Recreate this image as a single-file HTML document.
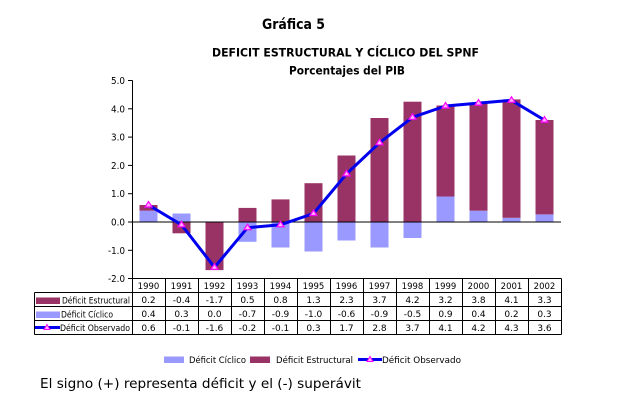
<!DOCTYPE html>
<html><head><meta charset="utf-8"><style>
html,body{margin:0;padding:0;background:#fff;}
svg{display:block;}
text{font-family:"DejaVu Sans","Liberation Sans",sans-serif;fill:#000;}
</style></head><body>
<svg width="617" height="405" viewBox="0 0 617 405" xmlns="http://www.w3.org/2000/svg">
<rect width="617" height="405" fill="#fff"/>
<!-- titles -->
<text x="293.5" y="29" font-size="14" font-weight="bold" text-anchor="middle" textLength="63" lengthAdjust="spacingAndGlyphs">Gráfica 5</text>
<text x="345.5" y="56.5" font-size="11.5" font-weight="bold" text-anchor="middle" textLength="267" lengthAdjust="spacingAndGlyphs">DEFICIT ESTRUCTURAL Y CÍCLICO DEL SPNF</text>
<text x="347" y="74.5" font-size="11.5" font-weight="bold" text-anchor="middle" textLength="116" lengthAdjust="spacingAndGlyphs">Porcentajes del PIB</text>

<!-- y axis -->
<g font-size="9.5" text-anchor="end">
<text x="125" y="84" textLength="14" lengthAdjust="spacingAndGlyphs">5.0</text>
<text x="125" y="112.3" textLength="14" lengthAdjust="spacingAndGlyphs">4.0</text>
<text x="125" y="140.6" textLength="14" lengthAdjust="spacingAndGlyphs">3.0</text>
<text x="125" y="168.9" textLength="14" lengthAdjust="spacingAndGlyphs">2.0</text>
<text x="125" y="197.2" textLength="14" lengthAdjust="spacingAndGlyphs">1.0</text>
<text x="125" y="225.5" textLength="14" lengthAdjust="spacingAndGlyphs">0.0</text>
<text x="125" y="253.8" textLength="17" lengthAdjust="spacingAndGlyphs">-1.0</text>
<text x="125" y="282.1" textLength="17" lengthAdjust="spacingAndGlyphs">-2.0</text>
</g>
<g stroke="#000" stroke-width="1">
<line x1="132.5" y1="80.5" x2="132.5" y2="278.5"/>
<line x1="128" y1="80.5" x2="132.5" y2="80.5"/>
<line x1="128" y1="108.8" x2="132.5" y2="108.8"/>
<line x1="128" y1="137.1" x2="132.5" y2="137.1"/>
<line x1="128" y1="165.4" x2="132.5" y2="165.4"/>
<line x1="128" y1="193.7" x2="132.5" y2="193.7"/>
<line x1="128" y1="222" x2="132.5" y2="222"/>
<line x1="128" y1="250.3" x2="132.5" y2="250.3"/>
<line x1="128" y1="278.5" x2="132.5" y2="278.5"/>
</g>

<!-- bars: y(v)=222-28.3v ; cx=148.5+33i -->
<g>
<!-- 1990 cic 0.4 estr 0.2 -->
<rect x="139.5" y="210.7" width="18" height="11.3" fill="#9999FF"/>
<rect x="139.5" y="205" width="18" height="5.7" fill="#993366"/>
<!-- 1991 cic 0.3, estr -0.4 -->
<rect x="172.5" y="213.5" width="18" height="8.5" fill="#9999FF"/>
<rect x="172.5" y="222" width="18" height="11.3" fill="#993366"/>
<!-- 1992 estr -1.7 -->
<rect x="205.5" y="222" width="18" height="48.1" fill="#993366"/>
<!-- 1993 cic -0.7 estr 0.5 -->
<rect x="238.5" y="222" width="18" height="19.8" fill="#9999FF"/>
<rect x="238.5" y="207.9" width="18" height="14.1" fill="#993366"/>
<!-- 1994 cic -0.9 estr 0.8 -->
<rect x="271.5" y="222" width="18" height="25.5" fill="#9999FF"/>
<rect x="271.5" y="199.4" width="18" height="22.6" fill="#993366"/>
<!-- 1995 cic -1.0 estr 1.3 -->
<rect x="304.5" y="222" width="18" height="29.5" fill="#9999FF"/>
<rect x="304.5" y="183.2" width="18" height="38.8" fill="#993366"/>
<!-- 1996 cic -0.6 estr 2.3 -->
<rect x="337.5" y="222" width="18" height="18.5" fill="#9999FF"/>
<rect x="337.5" y="155.5" width="18" height="66.5" fill="#993366"/>
<!-- 1997 cic -0.9 estr 3.7 -->
<rect x="370.5" y="222" width="18" height="25.5" fill="#9999FF"/>
<rect x="370.5" y="118" width="18" height="104" fill="#993366"/>
<!-- 1998 cic -0.55 estr 4.25 -->
<rect x="403.5" y="222" width="18" height="16" fill="#9999FF"/>
<rect x="403.5" y="101.7" width="18" height="120.3" fill="#993366"/>
<!-- 1999 cic 0.9 estr 3.2 -->
<rect x="436.5" y="196.5" width="18" height="25.5" fill="#9999FF"/>
<rect x="436.5" y="105.5" width="18" height="91" fill="#993366"/>
<!-- 2000 cic 0.4 estr 3.8 -->
<rect x="469.5" y="210.7" width="18" height="11.3" fill="#9999FF"/>
<rect x="469.5" y="102.5" width="18" height="108.2" fill="#993366"/>
<!-- 2001 cic 0.15 estr 4.18 -->
<rect x="502.5" y="217.8" width="18" height="4.2" fill="#9999FF"/>
<rect x="502.5" y="99.4" width="18" height="118.4" fill="#993366"/>
<!-- 2002 cic 0.27 estr 3.3 -->
<rect x="535.5" y="214.4" width="18" height="7.6" fill="#9999FF"/>
<rect x="535.5" y="120" width="18" height="94.4" fill="#993366"/>
</g>
<line x1="132.5" y1="222" x2="561" y2="222" stroke="#000" stroke-width="1"/>

<!-- observed line -->
<polyline fill="none" stroke="#0000EE" stroke-width="3" stroke-linejoin="round"
 points="148.5,205 181.5,224.8 214.5,267.3 247.5,227.7 280.5,224.8 313.5,213.5 346.5,173.9 379.5,142.8 412.5,117.3 445.5,106 478.5,103.1 511.5,100.3 544.5,120.1"/>
<g fill="#FFB3FF" stroke="#FF00FF" stroke-width="1.2">
<path d="M148.5,201.5 L152,207 L145,207 Z"/>
<path d="M181.5,221.3 L185,226.8 L178,226.8 Z"/>
<path d="M214.5,263.8 L218,269.3 L211,269.3 Z"/>
<path d="M247.5,224.2 L251,229.7 L244,229.7 Z"/>
<path d="M280.5,221.3 L284,226.8 L277,226.8 Z"/>
<path d="M313.5,210 L317,215.5 L310,215.5 Z"/>
<path d="M346.5,170.4 L350,175.9 L343,175.9 Z"/>
<path d="M379.5,139.3 L383,144.8 L376,144.8 Z"/>
<path d="M412.5,113.8 L416,119.3 L409,119.3 Z"/>
<path d="M445.5,102.5 L449,108 L442,108 Z"/>
<path d="M478.5,99.6 L482,105.1 L475,105.1 Z"/>
<path d="M511.5,96.8 L515,102.3 L508,102.3 Z"/>
<path d="M544.5,116.6 L548,122.1 L541,122.1 Z"/>
</g>

<!-- data table -->
<g stroke="#000" stroke-width="1" fill="none">
<line x1="132.5" y1="278.5" x2="561.5" y2="278.5"/>
<line x1="34.5" y1="292.5" x2="561.5" y2="292.5"/>
<line x1="34.5" y1="306.5" x2="561.5" y2="306.5"/>
<line x1="34.5" y1="320.5" x2="561.5" y2="320.5"/>
<line x1="34.5" y1="334.5" x2="561.5" y2="334.5"/>
<line x1="34.5" y1="292.5" x2="34.5" y2="334.5"/>
<line x1="132.5" y1="278.5" x2="132.5" y2="334.5"/>
<line x1="165.5" y1="278.5" x2="165.5" y2="334.5"/>
<line x1="198.5" y1="278.5" x2="198.5" y2="334.5"/>
<line x1="231.5" y1="278.5" x2="231.5" y2="334.5"/>
<line x1="264.5" y1="278.5" x2="264.5" y2="334.5"/>
<line x1="297.5" y1="278.5" x2="297.5" y2="334.5"/>
<line x1="330.5" y1="278.5" x2="330.5" y2="334.5"/>
<line x1="363.5" y1="278.5" x2="363.5" y2="334.5"/>
<line x1="396.5" y1="278.5" x2="396.5" y2="334.5"/>
<line x1="429.5" y1="278.5" x2="429.5" y2="334.5"/>
<line x1="462.5" y1="278.5" x2="462.5" y2="334.5"/>
<line x1="495.5" y1="278.5" x2="495.5" y2="334.5"/>
<line x1="528.5" y1="278.5" x2="528.5" y2="334.5"/>
<line x1="561.5" y1="278.5" x2="561.5" y2="334.5"/>
</g>
<g font-size="8.5" text-anchor="middle">
<text x="148.5" y="289">1990</text><text x="181.5" y="289">1991</text><text x="214.5" y="289">1992</text><text x="247.5" y="289">1993</text><text x="280.5" y="289">1994</text><text x="313.5" y="289">1995</text><text x="346.5" y="289">1996</text><text x="379.5" y="289">1997</text><text x="412.5" y="289">1998</text><text x="445.5" y="289">1999</text><text x="478.5" y="289">2000</text><text x="511.5" y="289">2001</text><text x="544.5" y="289">2002</text>
</g>
<g font-size="9" text-anchor="middle">
<text x="148.5" y="303">0.2</text><text x="181.5" y="303">-0.4</text><text x="214.5" y="303">-1.7</text><text x="247.5" y="303">0.5</text><text x="280.5" y="303">0.8</text><text x="313.5" y="303">1.3</text><text x="346.5" y="303">2.3</text><text x="379.5" y="303">3.7</text><text x="412.5" y="303">4.2</text><text x="445.5" y="303">3.2</text><text x="478.5" y="303">3.8</text><text x="511.5" y="303">4.1</text><text x="544.5" y="303">3.3</text>
<text x="148.5" y="317">0.4</text><text x="181.5" y="317">0.3</text><text x="214.5" y="317">0.0</text><text x="247.5" y="317">-0.7</text><text x="280.5" y="317">-0.9</text><text x="313.5" y="317">-1.0</text><text x="346.5" y="317">-0.6</text><text x="379.5" y="317">-0.9</text><text x="412.5" y="317">-0.5</text><text x="445.5" y="317">0.9</text><text x="478.5" y="317">0.4</text><text x="511.5" y="317">0.2</text><text x="544.5" y="317">0.3</text>
<text x="148.5" y="331">0.6</text><text x="181.5" y="331">-0.1</text><text x="214.5" y="331">-1.6</text><text x="247.5" y="331">-0.2</text><text x="280.5" y="331">-0.1</text><text x="313.5" y="331">0.3</text><text x="346.5" y="331">1.7</text><text x="379.5" y="331">2.8</text><text x="412.5" y="331">3.7</text><text x="445.5" y="331">4.1</text><text x="478.5" y="331">4.2</text><text x="511.5" y="331">4.3</text><text x="544.5" y="331">3.6</text>
</g>
<!-- table legend keys -->
<rect x="36" y="297.5" width="24" height="6.5" fill="#993366"/>
<text x="62" y="303.5" font-size="8.5" textLength="68" lengthAdjust="spacingAndGlyphs">Déficit Estructural</text>
<rect x="36" y="311.5" width="24" height="6.5" fill="#9999FF"/>
<text x="61" y="317.5" font-size="8.5" textLength="52" lengthAdjust="spacingAndGlyphs">Déficit Cíclico</text>
<line x1="35" y1="327.5" x2="60" y2="327.5" stroke="#0000EE" stroke-width="3"/>
<path d="M47,324.5 L50,329.5 L44,329.5 Z" fill="#FFB3FF" stroke="#FF00FF" stroke-width="1"/>
<text x="60" y="331" font-size="8.5" textLength="70" lengthAdjust="spacingAndGlyphs">Déficit Observado</text>

<!-- bottom legend -->
<rect x="164" y="356.5" width="20" height="6.5" fill="#9999FF"/>
<text x="189" y="363" font-size="8.5" textLength="57" lengthAdjust="spacingAndGlyphs">Déficit Cíclico</text>
<rect x="250" y="356.5" width="20" height="6.5" fill="#993366"/>
<text x="276" y="363" font-size="8.5" textLength="77" lengthAdjust="spacingAndGlyphs">Déficit Estructural</text>
<line x1="358" y1="359.5" x2="382" y2="359.5" stroke="#0000EE" stroke-width="3"/>
<path d="M370,356.5 L373,361.5 L367,361.5 Z" fill="#FFB3FF" stroke="#FF00FF" stroke-width="1"/>
<text x="382" y="363" font-size="8.5" textLength="79" lengthAdjust="spacingAndGlyphs">Déficit Observado</text>

<!-- footer -->
<text x="40" y="388" font-size="13.5" textLength="321" lengthAdjust="spacingAndGlyphs">El signo (+) representa déficit y el (-) superávit</text>
</svg>
</body></html>
